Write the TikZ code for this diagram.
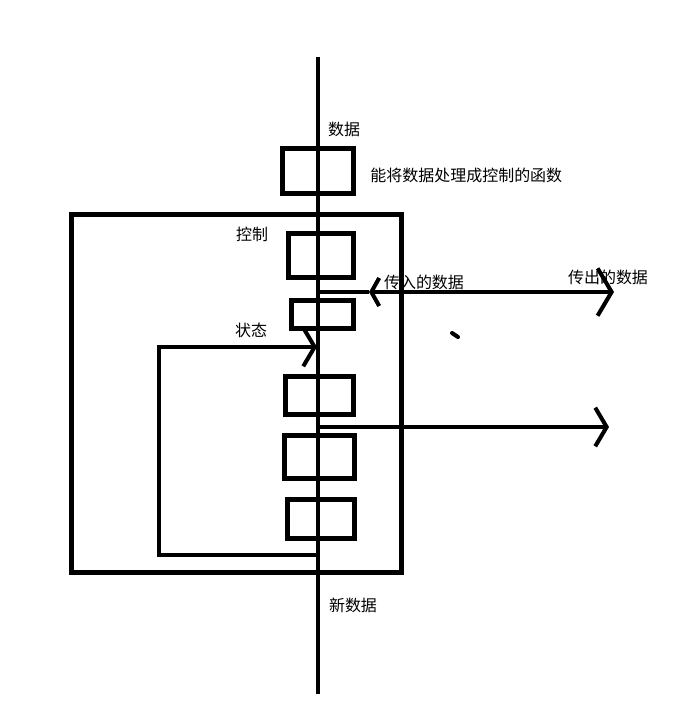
\documentclass[tikz,border=0pt]{standalone}
\usepackage{fontspec}
\newfontfamily\cjk{Noto Sans CJK SC}
\usetikzlibrary{arrows.meta}

\begin{document}
\begin{tikzpicture}[x=0.02cm, y=-0.02cm,
  box/.style={draw, line width=3pt, inner sep=0pt, outer sep=0pt},
  wire/.style={line width=2.3pt},
  lbl/.style={font=\cjk\fontsize{9.1}{11}\selectfont, inner sep=0pt},
  bigtip/.style={-{Straight Barb[length=8pt,width=27pt]}},
  midtip/.style={-{Straight Barb[length=6.5pt,width=22pt]}}]
  \useasboundingbox (0,0) rectangle (680,713);
  % main data line
  \coordinate (top) at (318,57);
  \coordinate (bottom) at (318,694);
  \draw[wire] (top) -- (bottom);
  % function box and the cell
  \node[box, minimum width=1.41cm, minimum height=0.89cm] (func) at (318,171) {};
  \node[box, minimum width=6.6cm, minimum height=7.16cm] (cell) at (236.5,393.5) {};
  \node[box, minimum width=1.3cm, minimum height=0.88cm] (ctrl) at (321,255.5) {};
  \node[box, minimum width=1.24cm, minimum height=0.56cm] (gateA) at (322.5,314.5) {};
  \node[box, minimum width=1.36cm, minimum height=0.76cm] (gateB) at (319.5,395.5) {};
  \node[box, minimum width=1.4cm, minimum height=0.86cm] (gateC) at (319.5,457) {};
  \node[box, minimum width=1.34cm, minimum height=0.78cm] (gateD) at (321,519) {};
  % labels
  \node[lbl] (data) at (344,129) {数据};
  \node[lbl, anchor=west] (funcname) at (370,175) {能将数据处理成控制的函数};
  \node[lbl] (ctrlname) at (252,234) {控制};
  \node[lbl] (inname) at (424,282) {传入的数据};
  \node[lbl] (outname) at (608,277) {传出的数据};
  \node[lbl] (statename) at (251,330) {状态};
  \node[lbl] (newdata) at (353,605) {新数据};
  % data in / out
  \coordinate (tapA) at (318,292);
  \coordinate (inA) at (369,292);
  \coordinate (outA) at (614,292);
  \draw[wire] (tapA) -- (inA);
  \draw[wire, {Straight Barb[length=4.5pt,width=16pt]}-{Straight Barb[length=8pt,width=27pt]}] (inA) -- (outA);
  \coordinate (tapB) at (318,427);
  \coordinate (outB) at (609,427);
  \draw[wire, midtip] (tapB) -- (outB);
  % state loop
  \coordinate (loopA) at (318,555);
  \coordinate (loopB) at (159,555);
  \coordinate (loopC) at (159,347);
  \coordinate (stateIn) at (317,347);
  \draw[wire, midtip] (loopA) -- (loopB) -- (loopC) -- (stateIn);
  % stray mark
  \draw[line width=2.3pt, line cap=round] (452,333) -- (458,337);
\end{tikzpicture}
\end{document}
